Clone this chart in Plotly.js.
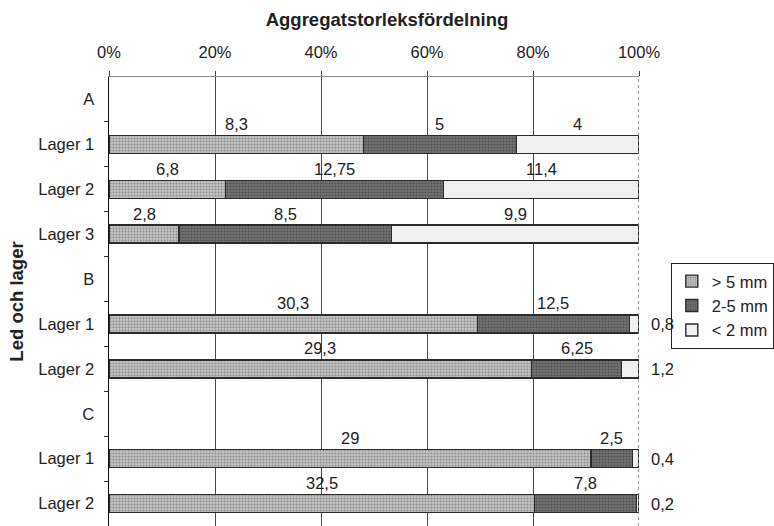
<!DOCTYPE html>
<html>
<head>
<meta charset="utf-8">
<script src="https://cdn.plot.ly/plotly-3.0.1.min.js"></script>
<style>
  html, body { margin: 0; padding: 0; background: #ffffff; }
  #chart { width: 774px; height: 526px; }
</style>
</head>
<body>
<div id="chart"></div>
<script>
// Rows from top to bottom: group headers (A, B, C) and their layers
const categories = ['A', 'Lager 1', 'Lager 2', 'Lager 3', 'B', 'Lager 1', 'Lager 2', 'C', 'Lager 1', 'Lager 2'];

// Aggregate size fractions per row (header rows carry no bar)
const over5mm  = [null, 8.3, 6.8, 2.8, null, 30.3, 29.3, null, 29, 32.5];
const mid2to5  = [null, 5, 12.75, 8.5, null, 12.5, 6.25, null, 2.5, 7.8];
const under2mm = [null, 4, 11.4, 9.9, null, 0.8, 1.2, null, 0.4, 0.2];

const seriesNames = ['> 5 mm', '2-5 mm', '< 2 mm'];
const xTickVals = [0, 20, 40, 60, 80, 100];

const series = [over5mm, mid2to5, under2mm];
const FONT = 'Liberation Sans, Arial, Helvetica, sans-serif';
const INK = '#222';

// Stippled fills for the size classes
const fills = [
  { color: '#bdbdbd', pattern: { shape: '.', fgcolor: '#8c8c8c', bgcolor: '#c4c4c4', size: 3, solidity: 0.35 } },
  { color: '#6c6c6c', pattern: { shape: '.', fgcolor: '#505050', bgcolor: '#727272', size: 3, solidity: 0.35 } },
  { color: '#f0f0f0', pattern: { shape: '' } }
];
const rowPos = categories.map((_, i) => i);

const traces = series.map((vals, k) => ({
  type: 'bar',
  orientation: 'h',
  name: seriesNames[k],
  y: rowPos,
  x: vals,
  width: 0.4,
  marker: {
    color: fills[k].color,
    pattern: fills[k].pattern,
    line: { color: '#2b2b2b', width: 1.4 }
  },
  hoverinfo: 'skip'
}));

// Value labels: centred above each segment, or beside the bar end when the segment is too thin
const fmt = v => String(v).replace('.', ',');
const labelFont = { family: FONT, size: 16.5, color: INK };
const annotations = [];
rowPos.forEach(i => {
  const vals = series.map(s => s[i]);
  if (vals[0] === null) return;
  const total = vals.reduce((a, b) => a + b, 0);
  let start = 0;
  vals.forEach(v => {
    const pct = v / total * 100;
    if (pct < 5) {
      annotations.push({
        x: 100, y: i, xref: 'x', yref: 'y', xanchor: 'left', yanchor: 'middle',
        xshift: 10, text: fmt(v), showarrow: false, font: labelFont
      });
    } else {
      annotations.push({
        x: start + pct / 2, y: i - 0.46, xref: 'x', yref: 'y',
        xanchor: 'center', yanchor: 'middle',
        text: fmt(v), showarrow: false, font: labelFont
      });
    }
    start += pct;
  });
});

// Tick marks that sit on the boundaries between rows
const tickTrace = {
  type: 'scatter', mode: 'markers', x: [null], y: [null],
  yaxis: 'y2', showlegend: false, hoverinfo: 'skip'
};

const layout = {
  width: 774,
  height: 526,
  margin: { l: 109, r: 132, t: 77, b: 0 },
  paper_bgcolor: '#ffffff',
  plot_bgcolor: '#ffffff',
  font: { family: FONT, size: 16.5, color: INK },
  barmode: 'stack',
  barnorm: 'percent',
  title: {
    text: '<b>Aggregatstorleksfördelning</b>',
    x: 0.5, xref: 'container', xanchor: 'center',
    y: 0.962, yref: 'container', yanchor: 'middle',
    font: { size: 18.5, color: INK }
  },
  xaxis: {
    side: 'top',
    range: [0, 100],
    tickvals: xTickVals,
    ticktext: xTickVals.map(v => v + '%'),
    ticks: 'outside', ticklen: 5, tickcolor: '#444', tickwidth: 1,
    ticklabelstandoff: 6,
    showgrid: true, gridcolor: '#4a4a4a', gridwidth: 1,
    showline: true, linecolor: '#888', linewidth: 1.2,
    zeroline: false,
    fixedrange: true,
    tickfont: { size: 16.5, color: INK }
  },
  yaxis: {
    range: [9.5, -0.5],
    tickvals: rowPos,
    ticktext: categories,
    ticks: '',
    ticklabelstandoff: 10,
    showgrid: false,
    showline: true, linecolor: '#111', linewidth: 1.5,
    zeroline: false,
    title: { text: '<b>Led och lager</b>', standoff: 10, font: { size: 18.5, color: INK } },
    tickfont: { size: 16.5, color: INK },
    fixedrange: true
  },
  yaxis2: {
    overlaying: 'y',
    anchor: 'x',
    side: 'left',
    range: [9.5, -0.5],
    tickvals: rowPos.map(i => i + 0.5),
    showticklabels: false,
    ticks: 'outside', ticklen: 4, tickcolor: '#333', tickwidth: 1,
    showgrid: false, zeroline: false, showline: false,
    fixedrange: true
  },
  shapes: [{
    type: 'line', xref: 'x', yref: 'paper',
    x0: 100, x1: 100, y0: 0, y1: 1,
    line: { color: '#777', width: 1.5, dash: 'dot' }
  }],
  showlegend: true,
  legend: {
    x: 1.06, xanchor: 'left',
    y: 0.586, yanchor: 'top',
    traceorder: 'normal',
    bgcolor: '#ffffff',
    bordercolor: INK, borderwidth: 1,
    font: { size: 16.5, color: INK },
    itemwidth: 30,
    tracegroupgap: 0
  },
  annotations: annotations
};

Plotly.newPlot('chart', traces.concat([tickTrace]), layout, { displayModeBar: false, staticPlot: true });
</script>
</body>
</html>
